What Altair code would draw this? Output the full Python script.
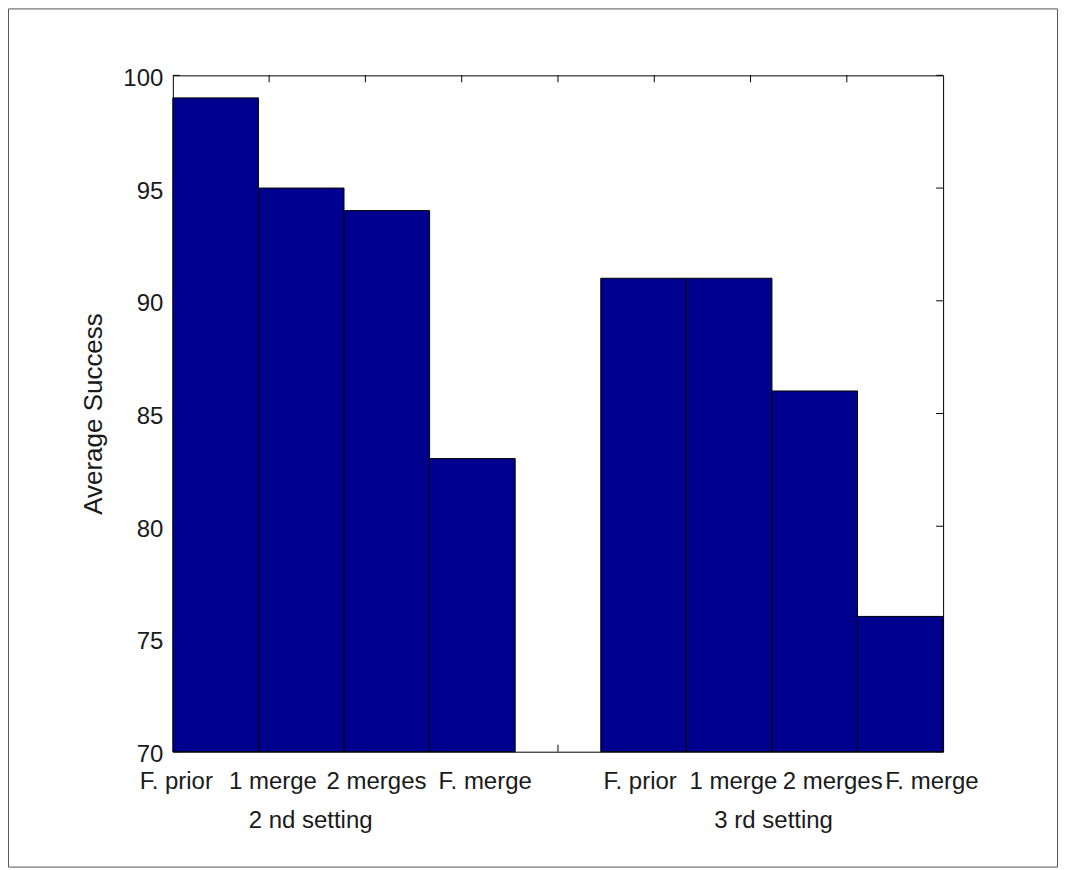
import altair as alt
import pandas as pd

# ---- data ----
categories = ["F. prior", "1 merge", "2 merges", "F. merge", "",
              "F. prior", "1 merge", "2 merges", "F. merge"]
values = [99, 95, 94, 83, None, 91, 91, 86, 76]

# tick-label centres (in bar-slot units) as they appear in the figure
label_centres = [0.04, 1.17, 2.38, 3.65, 5.46, 6.55, 7.71, 8.87]
group_labels = ["2 nd setting", "3 rd setting"]
group_centres = [1.61, 7.02]

y_ticks = [70, 75, 80, 85, 90, 95, 100]
x_ticks = [1.125, 2.25, 3.375, 4.5, 5.625, 6.75, 7.875]

# ---- tables ----
bars = pd.DataFrame([
    {"cat": c, "start": i, "end": i + 1, "value": v}
    for i, (c, v) in enumerate(zip(categories, values)) if v is not None
])
labels = pd.DataFrame({"text": [c for c in categories if c],
                       "x": label_centres})
groups = pd.DataFrame({"text": group_labels, "x": group_centres})
yt = pd.DataFrame({"value": y_ticks})
xt = pd.DataFrame({"x": x_ticks})

W, H = 771, 677
FONT = "Liberation Sans"
TXT = "#1a1a1a"

xscale = alt.Scale(domain=[0, 9], nice=False, zero=False)
yscale = alt.Scale(domain=[70, 100], nice=False, zero=False)

y_axis = alt.Axis(values=y_ticks, ticks=False, domain=False, grid=False,
                  labelFont=FONT, labelFontSize=24, labelColor=TXT,
                  labelPadding=10, labelOffset=3,
                  title="Average Success", titleFont=FONT,
                  titleFontSize=26, titleFontWeight="normal",
                  titleColor=TXT, titleAngle=-90, titleX=-71,
                  titleY=H / 2, titleAlign="center",
                  titleBaseline="alphabetic")
Y = alt.Y("value:Q", scale=yscale, axis=y_axis, title="Average Success")

tick_style = dict(color="black", strokeWidth=1)

left_ticks = alt.Chart(yt).mark_rule(**tick_style).encode(
    y=Y, x=alt.value(0), x2=alt.value(7))
right_ticks = alt.Chart(yt).mark_rule(**tick_style).encode(
    y=Y, x=alt.value(W), x2=alt.value(W - 7))
top_ticks = alt.Chart(xt).mark_rule(**tick_style).encode(
    x=alt.X("x:Q", scale=xscale, axis=None),
    y=alt.value(0), y2=alt.value(7))
bottom_ticks = alt.Chart(xt).mark_rule(**tick_style).encode(
    x=alt.X("x:Q", scale=xscale, axis=None),
    y=alt.value(H), y2=alt.value(H - 7))

bar_layer = alt.Chart(bars).mark_bar(
    color="#00008F", stroke="black", strokeWidth=1).encode(
    x=alt.X("start:Q", scale=xscale, axis=None),
    x2="end:Q",
    y=Y,
    y2=alt.Y2(datum=70),
)

label_layer = alt.Chart(labels).mark_text(
    font=FONT, fontSize=24, color=TXT, align="center",
    baseline="alphabetic").encode(
    x=alt.X("x:Q", scale=xscale, axis=None),
    y=alt.value(H + 37),
    text="text:N")

group_layer = alt.Chart(groups).mark_text(
    font=FONT, fontSize=24, color=TXT, align="center",
    baseline="alphabetic").encode(
    x=alt.X("x:Q", scale=xscale, axis=None),
    y=alt.value(H + 76),
    text="text:N")

frame = alt.Chart(pd.DataFrame({"f": [0]})).mark_rect(
    filled=False, stroke="#555555", strokeWidth=1).encode(
    x=alt.value(-164.5), x2=alt.value(885.5),
    y=alt.value(-66.5), y2=alt.value(792.5))

chart = alt.layer(
    left_ticks, right_ticks, top_ticks, bottom_ticks,
    bar_layer, label_layer, group_layer, frame
).properties(
    width=W, height=H,
    autosize=alt.AutoSizeParams(type="none"),
    padding={"left": 165, "top": 67, "right": 115, "bottom": 116},
    background="white",
).configure_view(stroke="black", strokeWidth=1)

chart.save("out.html", embed_options={"renderer": "svg", "actions": False})
